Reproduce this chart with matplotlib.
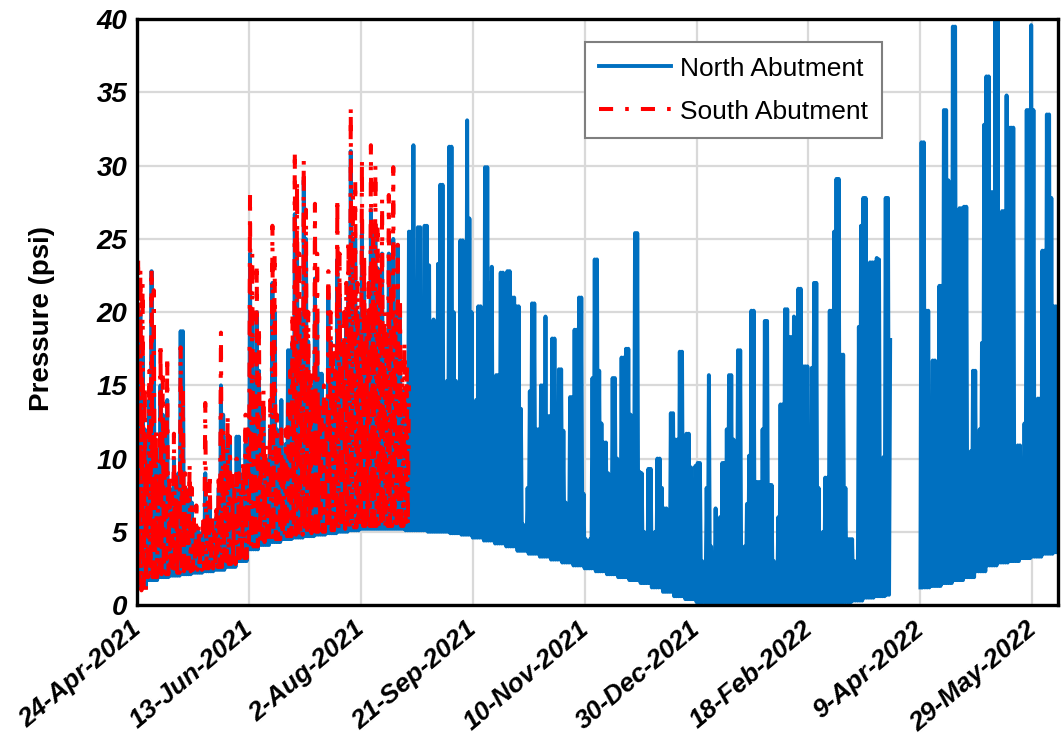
import numpy as np
import matplotlib
matplotlib.use("Agg")
import matplotlib.pyplot as plt
import matplotlib.dates as mdates
import matplotlib.transforms as mtransforms
from datetime import datetime

plt.rcParams['font.family'] = ['Liberation Sans', 'DejaVu Sans']

START = "24-Apr-2021"
nan = np.nan

# daily peak pressure (psi), one value per day from START
north_peak = [
    18, 20, 17, 12, 9, 14, 22.8, 19, 10, 8,
    15, 13, 10, 14, 8, 7, 10, 8, 9, 18.7,
    18.7, 8, 7, 8, 7, 5.5, 5, 5, 4.8, 5.5,
    9, 6, 7, 5.5, 5, 6, 8, 15, 13, 10,
    11.5, 11, 8.5, 8, 11.5, 11.5, 8, 9, 11, 10,
    24, 20, 12, 20, 16, 11, 13, 10, 9, 12,
    22, 20, 12, 11, 14, 10, 11, 17.4, 17.4, 18,
    26.7, 25, 20, 16, 29, 25, 18, 15, 14, 22.3,
    20, 15.8, 15.8, 14, 13, 21.3, 18, 16, 15, 23.6,
    21, 16, 18, 20, 22, 31, 25, 25, 20, 17,
    26, 22, 18, 20, 27, 22, 26, 23, 21, 24,
    18, 17, 24, 20, 25, 18, 24.6, 20, 14.6, 14.6,
    14.6, 25.5, 25.5, 31.4, 19.7, 25.8, 25.8, 14, 25.9, 25.9,
    23.2, 12, 19.5, 13, 23.3, 28.7, 28.7, 11, 15.3, 31.3,
    31.3, 20, 15.3, 12, 24.9, 24.9, 18, 33.1, 26.4, 20,
    11.5, 14, 20.4, 20.4, 13, 29.9, 29.9, 22, 23.1, 9.7,
    15.7, 15.7, 22.7, 22.7, 22.3, 22.8, 22.8, 21, 21, 20.4,
    20.4, 13.4, 5.5, 5.2, 8, 14.6, 20.6, 20.6, 12, 12,
    15, 15, 19.7, 12.9, 12.9, 18.2, 18.2, 11.9, 16.1, 16.1,
    11.9, 7, 3.4, 14.2, 14.2, 18.8, 18.8, 21, 21, 7.6,
    4.5, 4.2, 4.5, 15.5, 23.6, 23.6, 16, 12.4, 11.1, 11.1,
    9, 7.9, 15.5, 15.5, 10, 7.6, 16.9, 16.9, 17.5, 17.5,
    13, 10, 25.4, 25.4, 9.1, 9, 5, 2.9, 9.3, 9.3,
    3, 5, 10, 10, 8, 6.6, 6.6, 6, 13.1, 13.1,
    11.3, 11.3, 17.3, 17.3, 11.2, 11.7, 11.7, 9.4, 2.8, 9.5,
    9.7, 9.7, 3, 2, 8, 15.7, 4, 1.4, 6.6, 5,
    6, 9.7, 9.7, 12, 15.7, 15.7, 11.3, 9, 17.4, 17.4,
    1.4, 4, 6.9, 10.2, 20.1, 20.1, 8.4, 8.4, 8.4, 12,
    19.4, 19.4, 8.2, 8.2, 3, 0.6, 6, 13.7, 13.7, 20.2,
    20.2, 18.3, 18.3, 19.7, 6.6, 21.6, 21.6, 16.3, 16.3, 16.3,
    0.9, 16.2, 22, 22, 8, 0.6, 5, 8.7, 8.7, 20.1,
    20.1, 25.5, 29.1, 29.1, 17.1, 17.1, 8, 4.5, 4.5, 4.5,
    3, 1.9, 19, 25.9, 27.8, 27.8, 17, 23.4, 23.4, 23.4,
    23.7, 23.6, 8.2, 10.1, 27.8, 27.8, 18.1, nan, nan, nan,
    nan, nan, nan, nan, nan, nan, nan, nan, nan, nan,
    31.6, 31.6, 20.1, 20.1, 14, 16.7, 16.7, 13.9, 21.8, 21.8,
    33.8, 33.8, 29, 12, 39.5, 39.5, 8.3, 27.1, 27.1, 27.2,
    27.2, 8.3, 10.5, 16, 16, 10.4, 12, 17.9, 32.8, 36.1,
    36.1, 28.2, 28.2, 39.9, 39.9, 21.5, 26.9, 26.9, 34.8, 32.6,
    32.6, 32.6, 9.8, 10.9, 10.9, 6.2, 12.4, 33.8, 33.8, 39.6,
    33.8, 10.2, 14.1, 14.1, 24.2, 24.2, 33.5, 33.5, 27.8, 20.4,
    20.4, 12,
]

south_peak = [
    23.7, 23, 22, 15, 10, 16, 23, 21.5, 12, 9,
    17.9, 16, 12, 17, 9, 8, 11.7, 9, 7, 17.6,
    15, 9, 8, 9.7, 8, 6, 6.8, 5.5, 5, 6,
    13.8, 7, 9, 6, 5, 6.5, 9, 18.6, 12, 10,
    13, 11.5, 9, 8, 10, 9, 8, 10, 13, 12,
    28, 24, 14, 23.3, 19, 12, 14.7, 11, 10, 14,
    25.9, 24, 13, 11, 12, 10, 12, 14, 16, 20,
    31, 29, 24, 18, 30.4, 27, 20, 16, 15, 27.4,
    24, 14, 13, 15, 14, 22.8, 20, 18, 16, 27.8,
    24, 18, 20, 22, 25, 34, 28, 29, 22, 18,
    30.5, 24, 20, 22, 31.4, 25, 30, 26, 23, 27.7,
    20, 19, 28, 22, 29.9, 20, 24.6, 21, 16.6, 18,
    16.6, 15,
]

# daily minimum (psi), one value per 5-day block
north_base = [
    1.2, 1.7, 1.9, 2.0, 2.1, 2.2, 2.3, 2.4, 2.6, 3.0,
    3.8, 4.1, 4.3, 4.5, 4.6, 4.7, 4.8, 4.9, 5.0, 5.1,
    5.2, 5.2, 5.2, 5.2, 5.1, 5.1, 5.0, 5.0, 4.9, 4.8,
    4.6, 4.4, 4.2, 4.0, 3.7, 3.5, 3.3, 3.1, 2.9, 2.7,
    2.5, 2.3, 2.1, 1.9, 1.7, 1.5, 1.2, 0.9, 0.6, 0.4,
    0.2, 0.1, 0.05, 0.05, 0.05, 0.05, 0.05, 0.05, 0.05, 0.05,
    0.05, 0.1, 0.1, 0.2, 0.3, 0.5, 0.6, 0.7, nan, nan,
    1.2, 1.3, 1.5, 1.7, 1.9, 2.3, 2.7, 2.9, 3.0, 3.2,
    3.3, 3.5, 3.6,
]

south_base = [
    1.0, 1.9, 2.1, 2.2, 2.3, 2.4, 2.5, 2.6, 2.8, 3.2,
    4.0, 4.3, 4.5, 4.7, 4.8, 4.9, 5.0, 5.1, 5.2, 5.3,
    5.4, 5.4, 5.4, 5.4, 5.4,
]

tick_labels = ["24-Apr-2021", "13-Jun-2021", "2-Aug-2021", "21-Sep-2021",
               "10-Nov-2021", "30-Dec-2021", "18-Feb-2022", "9-Apr-2022",
               "29-May-2022"]
y_ticks = [0, 5, 10, 15, 20, 25, 30, 35, 40]

x0 = mdates.date2num(datetime.strptime(START, "%d-%b-%Y"))


def zigzag(base5, peak):
    peak = np.array(peak, dtype=float)
    n = len(peak)
    day = np.arange(n)
    base = np.repeat(np.array(base5, dtype=float), 5)[:n]
    base = np.where(np.isnan(peak), np.nan, base)
    x = np.column_stack([day, day + 0.5]).ravel() + x0
    y = np.column_stack([base, peak]).ravel()
    return x, y


fig = plt.figure(figsize=(10.62, 7.41), dpi=100)
ax = fig.add_axes([0.129, 0.1835, 0.8675, 0.7905])

xn, yn = zigzag(north_base, north_peak)
xs, ys = zigzag(south_base, south_peak)
ax.plot(xn, yn, color='#0070C0', lw=2.8, label='North Abutment', zorder=3)
ax.plot(xs, ys, color='#FF0000', lw=2.9, dashes=(3.5, 3, 0.9, 3),
        label='South Abutment', zorder=4)

ax.set_xlim(x0, x0 + 411.6)
ax.set_ylim(0, 40)

tick_pos = [mdates.date2num(datetime.strptime(s, "%d-%b-%Y")) for s in tick_labels]
ax.set_xticks(tick_pos)
ax.set_xticklabels([])
# date labels drawn as texts so they can sit a little left of each tick
offset = mtransforms.ScaledTranslation(-5 / 72, -8.5 / 72, fig.dpi_scale_trans)
for pos, lab in zip(tick_pos, tick_labels):
    ax.text(pos, 0, lab, transform=ax.get_xaxis_transform() + offset,
            rotation=40, ha='right', va='top', rotation_mode='anchor',
            fontsize=19, fontweight='bold', fontstyle='italic')

ax.set_yticks(y_ticks)
ax.set_yticklabels([str(v) for v in y_ticks], fontsize=20,
                   fontweight='bold', fontstyle='italic')
ax.tick_params(length=0)
ax.tick_params(axis='y', pad=7)

ax.grid(True, color='#D9D9D9', lw=1.6, zorder=0)
ax.set_axisbelow(True)
for sp in ax.spines.values():
    sp.set_linewidth(2.4)
    sp.set_color('black')
    sp.set_zorder(5)

ax.set_ylabel('Pressure (psi)', fontsize=20, fontweight='bold')
ax.yaxis.set_label_coords(-0.089, 0.49)

leg = ax.legend(loc='upper left', bbox_to_anchor=(0.486, 0.961),
                borderaxespad=0, fontsize=19, frameon=True, fancybox=False,
                handlelength=2.7, labelspacing=0.72, borderpad=0.55,
                handletextpad=0.35)
leg.get_frame().set_edgecolor('#7F7F7F')
leg.get_frame().set_linewidth(1.5)
leg.get_frame().set_alpha(1)
leg.set_zorder(10)

fig.savefig('out.png', dpi=100)
